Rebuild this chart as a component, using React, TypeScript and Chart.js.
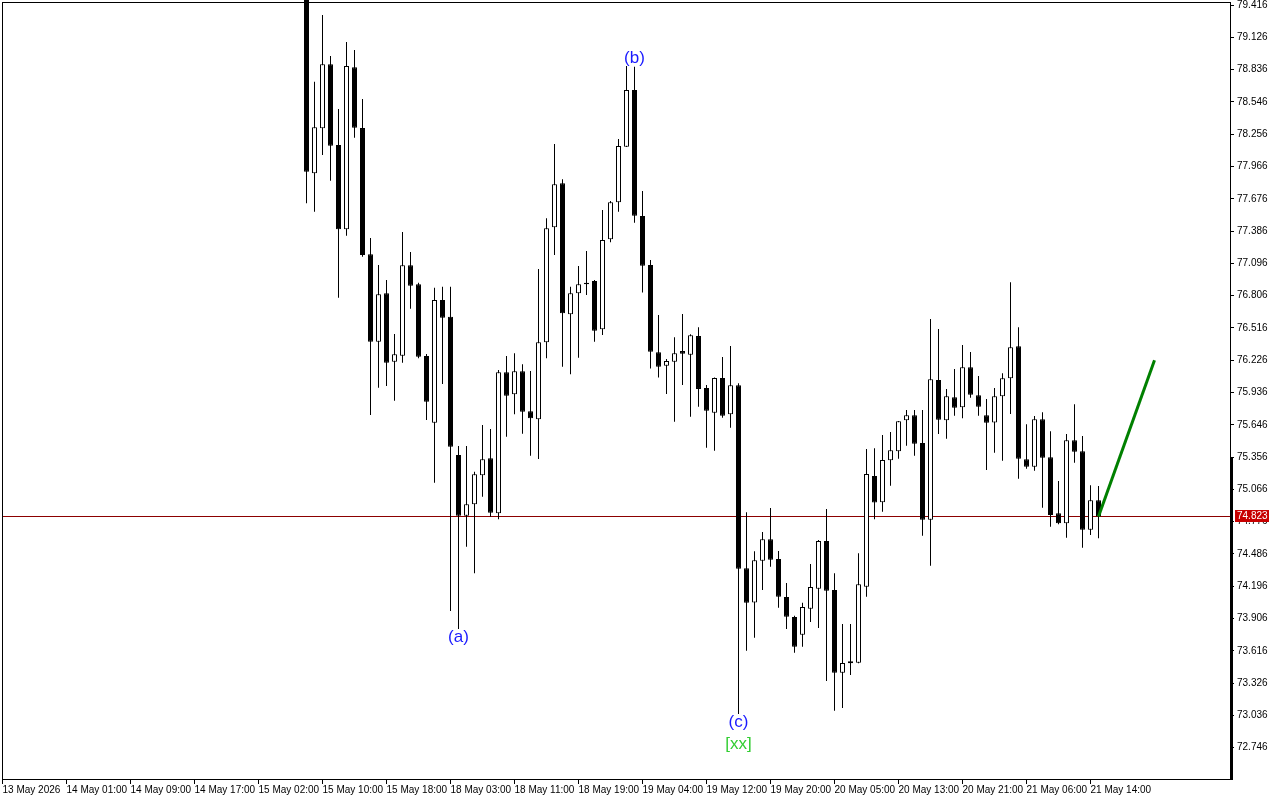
import React, { useEffect, useRef } from 'react';
import { Chart, registerables } from 'chart.js';

Chart.register(...registerables);

// index of the first visible candle on the time axis (earlier candles lie above the visible price range)
const FIRST_BAR = 38;

const timeLabels = [
  '13 May 2026', '14 May 01:00', '14 May 09:00', '14 May 17:00', '15 May 02:00', '15 May 10:00',
  '15 May 18:00', '18 May 03:00', '18 May 11:00', '18 May 19:00', '19 May 04:00', '19 May 12:00',
  '19 May 20:00', '20 May 05:00', '20 May 13:00', '20 May 21:00', '21 May 06:00', '21 May 14:00',
];
const labelBars = [0, 8, 16, 24, 32, 40, 48, 56, 64, 72, 80, 88, 96, 104, 112, 120, 128, 136];

const priceTicks = [
  72.746, 73.036, 73.326, 73.616, 73.906, 74.196, 74.486, 74.776, 75.066, 75.356, 75.646, 75.936,
  76.226, 76.516, 76.806, 77.096, 77.386, 77.676, 77.966, 78.256, 78.546, 78.836, 79.126, 79.416,
];

const opens = [
  79.600, 77.905, 78.309, 78.884, 78.159, 77.402, 78.857, 78.311, 77.177, 76.392,
  76.827, 76.213, 76.267, 77.078, 76.908, 76.264, 75.665, 76.767, 76.617, 75.375,
  74.830, 74.932, 75.193, 75.345, 74.851, 76.117, 75.920, 76.126, 75.767, 75.695,
  76.387, 77.420, 77.815, 76.638, 76.827, 76.908, 76.937, 76.504, 77.312, 77.644,
  78.143, 78.653, 77.521, 77.081, 76.297, 76.177, 76.213, 76.309, 76.276, 76.443,
  75.976, 75.755, 76.066, 75.740, 76.001, 74.357, 74.050, 74.426, 74.618, 74.441,
  74.100, 73.920, 73.761, 73.994, 74.174, 74.602, 74.162, 73.420, 73.504, 73.509,
  74.192, 75.186, 74.950, 75.327, 75.408, 75.686, 75.731, 75.482, 74.794, 76.048,
  75.686, 75.893, 75.803, 76.162, 75.911, 75.731, 75.667, 75.902, 76.064, 76.351,
  75.336, 75.270, 75.695, 75.354, 74.851, 74.761, 75.507, 75.408, 74.704, 74.968,
];
const highs = [
  79.700, 78.727, 79.326, 78.958, 78.482, 79.084, 79.012, 78.572, 77.324, 77.081,
  76.946, 76.461, 77.378, 77.198, 76.922, 76.282, 76.877, 76.886, 76.886, 75.456,
  75.456, 75.225, 75.644, 75.608, 76.138, 76.264, 76.288, 76.189, 76.129, 77.045,
  77.500, 78.168, 77.851, 76.886, 77.072, 77.207, 76.946, 77.575, 77.656, 78.213,
  78.868, 78.862, 77.746, 77.126, 76.632, 76.237, 76.432, 76.641, 76.460, 76.522,
  76.003, 76.070, 76.255, 76.354, 76.019, 74.860, 74.511, 74.683, 74.899, 74.513,
  74.225, 73.930, 74.048, 74.396, 74.611, 74.890, 74.312, 73.857, 73.857, 74.492,
  75.429, 75.435, 75.554, 75.581, 75.680, 75.779, 75.779, 75.779, 76.596, 76.506,
  75.968, 76.147, 76.363, 76.300, 76.084, 75.878, 75.976, 76.108, 76.926, 76.522,
  75.650, 75.725, 75.758, 75.588, 75.141, 75.563, 75.830, 75.545, 75.103, 75.096,
];
const lows = [
  77.635, 77.560, 78.069, 77.838, 76.787, 77.344, 78.224, 77.156, 75.734, 75.979,
  75.995, 75.862, 76.204, 76.689, 76.243, 75.689, 75.126, 76.012, 73.974, 73.812,
  74.551, 74.312, 75.000, 74.821, 74.797, 75.539, 75.740, 75.566, 75.368, 75.339,
  76.243, 77.171, 76.168, 76.100, 76.249, 76.812, 76.392, 76.452, 77.285, 77.560,
  78.140, 77.461, 76.834, 76.152, 76.071, 75.923, 75.674, 76.003, 75.719, 75.809,
  75.440, 75.413, 75.710, 75.620, 73.049, 73.617, 73.734, 74.162, 74.372, 74.003,
  73.812, 73.599, 73.653, 73.875, 73.821, 73.345, 73.078, 73.103, 73.399, 73.505,
  74.102, 74.797, 74.866, 75.099, 75.341, 75.458, 75.368, 74.650, 74.381, 75.563,
  75.521, 75.728, 75.704, 75.889, 75.728, 75.240, 75.395, 75.324, 75.743, 75.162,
  75.252, 75.234, 74.901, 74.731, 74.752, 74.632, 75.306, 74.542, 74.656, 74.627,
];
const closes = [
  77.919, 78.318, 78.884, 78.153, 77.402, 78.868, 78.314, 77.171, 76.392, 76.818,
  76.204, 76.279, 77.078, 76.895, 76.258, 75.853, 76.767, 76.608, 75.449, 74.830,
  74.932, 75.202, 75.336, 74.857, 76.117, 75.907, 76.126, 75.764, 75.704, 76.387,
  77.411, 77.806, 76.647, 76.827, 76.908, 76.922, 76.491, 77.306, 77.644, 78.150,
  78.653, 77.524, 77.075, 76.302, 76.168, 76.219, 76.288, 76.285, 76.450, 75.968,
  75.773, 76.066, 75.728, 76.001, 74.354, 74.048, 74.429, 74.618, 74.435, 74.102,
  73.923, 73.653, 74.010, 74.189, 74.602, 74.156, 73.420, 73.507, 73.522, 74.213,
  75.204, 74.948, 75.330, 75.417, 75.677, 75.731, 75.476, 74.794, 76.055, 75.692,
  75.902, 75.800, 76.162, 75.916, 75.809, 75.665, 75.902, 76.064, 76.342, 75.341,
  75.270, 75.695, 75.350, 74.836, 74.761, 75.507, 75.404, 74.704, 74.968, 74.823,
];

// green projection line
const projectionBars = [137, 144];
const projectionPrices = [74.823, 76.226];

// wave labels (candle index within the arrays above)
const waveTexts = ['(a)', '(b)', '(c)'];
const waveCandles = [19, 41, 54];
const wavePlacement = ['below', 'above', 'below'];
const degreeText = '[xx]';
const degreeCandle = 54;

// start price of the thick marker on the price axis
const axisMarkFrom = 75.356;

export default function App() {
  const ref = useRef<HTMLCanvasElement | null>(null);

  useEffect(() => {
    document.body.style.margin = '0';
    const canvas = ref.current;
    if (!canvas) return;

    const n = closes.length;
    const xs = closes.map((_, k) => FIRST_BAR + k);
    const bodies = xs.map((x, k) => ({ x, y: [opens[k], closes[k]] }));
    const wicks = xs.map((x, k) => ({ x, y: [lows[k], highs[k]] }));
    const bodyColors = closes.map((c, k) => (c >= opens[k] ? '#ffffff' : '#000000'));
    const projection = projectionBars.map((b, j) => ({ x: b, y: projectionPrices[j] }));
    const lastPrice = closes[n - 1];

    const overlay = {
      id: 'overlay',
      beforeDatasetsDraw(chart: any) {
        const { ctx, chartArea } = chart;
        const ys = chart.scales.y;
        const yp = Math.round(ys.getPixelForValue(lastPrice)) + 0.5;
        ctx.save();
        ctx.strokeStyle = '#8c0000';
        ctx.lineWidth = 1;
        ctx.beginPath();
        ctx.moveTo(chartArea.left, yp);
        ctx.lineTo(chartArea.right, yp);
        ctx.stroke();
        ctx.restore();
      },
      afterDatasetsDraw(chart: any) {
        const { ctx, chartArea } = chart;
        const xsc = chart.scales.x;
        const ys = chart.scales.y;
        ctx.save();
        // frame
        ctx.strokeStyle = '#000';
        ctx.lineWidth = 1;
        ctx.strokeRect(chartArea.left + 0.5, chartArea.top + 0.5, chartArea.right - chartArea.left, chartArea.bottom - chartArea.top);

        // wave labels
        ctx.font = '17px "Liberation Sans", Arial, sans-serif';
        ctx.textAlign = 'center';
        ctx.textBaseline = 'middle';
        ctx.fillStyle = '#1a1aff';
        waveTexts.forEach((t, j) => {
          const k = waveCandles[j];
          const x = xsc.getPixelForValue(FIRST_BAR + k);
          if (wavePlacement[j] === 'below') {
            ctx.fillText(t, x, ys.getPixelForValue(lows[k]) + 8);
          } else {
            ctx.fillText(t, x, ys.getPixelForValue(highs[k]) - 8);
          }
        });
        ctx.fillStyle = '#32cd32';
        ctx.fillText(degreeText, xsc.getPixelForValue(FIRST_BAR + degreeCandle), ys.getPixelForValue(lows[degreeCandle]) + 30);

        // thick marker on the price axis
        const ym = ys.getPixelForValue(axisMarkFrom);
        ctx.fillStyle = '#000';
        ctx.fillRect(chartArea.right, ym, 3, chartArea.bottom - ym + 1);

        // current price box
        const yp = Math.round(ys.getPixelForValue(lastPrice));
        ctx.fillStyle = '#c80000';
        ctx.fillRect(chartArea.right + 5, yp - 6, 34, 12);
        ctx.fillStyle = '#ffffff';
        ctx.font = '10px "Liberation Sans", Arial, sans-serif';
        ctx.textAlign = 'left';
        ctx.textBaseline = 'middle';
        ctx.fillText(lastPrice.toFixed(3), chartArea.right + 7, yp + 0.5);
        ctx.restore();
      },
    };

    const chart = new Chart(canvas, {
      type: 'bar',
      data: {
        datasets: [
          {
            type: 'line',
            data: projection,
            borderColor: '#008000',
            borderWidth: 3,
            pointRadius: 0,
            order: 0,
            clip: false,
          } as any,
          {
            data: bodies,
            backgroundColor: bodyColors,
            borderColor: '#000000',
            borderWidth: 1,
            borderSkipped: false,
            barThickness: 5,
            grouped: false,
            inflateAmount: 0,
            order: 1,
            clip: false,
          } as any,
          {
            data: wicks,
            backgroundColor: '#000000',
            borderWidth: 0,
            barThickness: 1,
            grouped: false,
            inflateAmount: 0,
            order: 2,
            clip: false,
          } as any,
        ],
      },
      options: {
        responsive: false,
        animation: false,
        devicePixelRatio: 1,
        layout: { padding: { left: 2, top: 2, right: 0, bottom: 0 } },
        plugins: { legend: { display: false }, tooltip: { enabled: false } },
        scales: {
          x: {
            type: 'linear',
            position: 'bottom',
            offset: false,
            min: -0.0625,
            max: 153.4375,
            grid: { offset: false, drawOnChartArea: false, drawTicks: true, tickLength: 5, color: '#000' },
            border: { display: true, color: '#000' },
            ticks: {
              autoSkip: false,
              maxRotation: 0,
              align: 'start',
              padding: 0,
              color: '#000',
              font: { family: '"Liberation Sans", Arial, sans-serif', size: 10 },
              callback: (v: any) => {
                const j = labelBars.indexOf(Math.round(Number(v)));
                return j >= 0 ? timeLabels[j] : '';
              },
            },
            afterBuildTicks: (s: any) => {
              s.ticks = labelBars.map((b) => ({ value: b }));
            },
            afterFit: (s: any) => {
              s.height = 21;
              s.paddingLeft = 0;
              s.paddingRight = 0;
            },
          } as any,
          y: {
            type: 'linear',
            position: 'right',
            min: 72.465,
            max: 79.443,
            grid: { drawOnChartArea: false, drawTicks: true, tickLength: 4, color: '#000' },
            border: { display: true, color: '#000' },
            ticks: {
              autoSkip: false,
              padding: 3,
              color: '#000',
              font: { family: '"Liberation Sans", Arial, sans-serif', size: 10 },
              callback: (v: any) => Number(v).toFixed(3),
            },
            afterBuildTicks: (s: any) => {
              s.ticks = priceTicks.map((p) => ({ value: p }));
            },
            afterFit: (s: any) => {
              s.width = 50;
              s.paddingTop = 0;
              s.paddingBottom = 0;
            },
          } as any,
        },
      },
      plugins: [overlay],
    });

    return () => chart.destroy();
  }, []);

  return (
    <div style={{ width: 1280, height: 800, background: '#fff' }}>
      <canvas ref={ref} width={1280} height={800} style={{ display: 'block' }} />
    </div>
  );
}
